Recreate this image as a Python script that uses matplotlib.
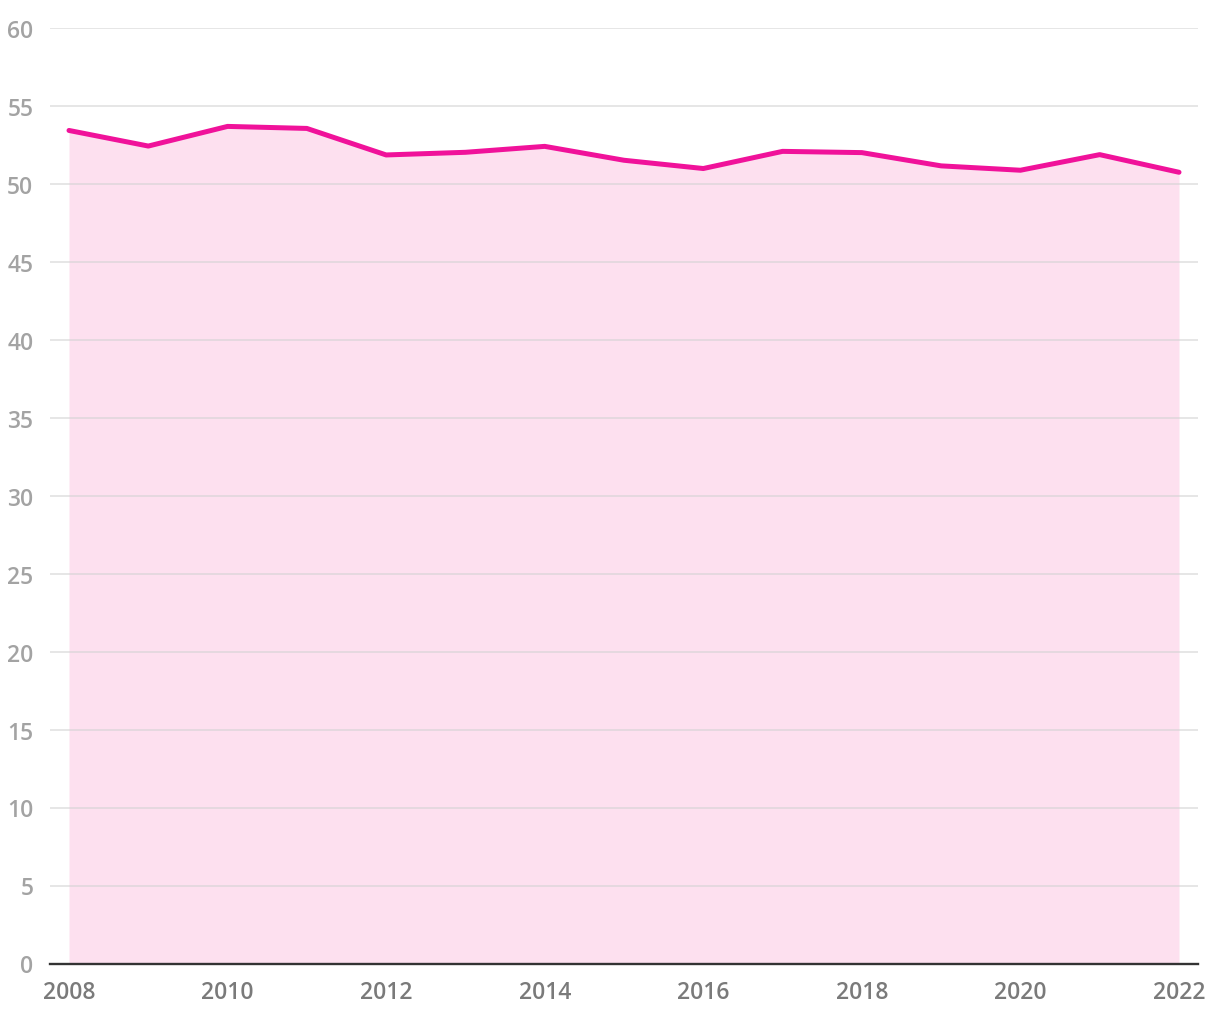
import matplotlib
matplotlib.use("Agg")
import matplotlib.pyplot as plt

years = [2008, 2009, 2010, 2011, 2012, 2013, 2014, 2015, 2016, 2017, 2018, 2019, 2020, 2021, 2022]
values = [53.4, 52.4, 53.66, 53.53, 51.83, 52.0, 52.38, 51.49, 50.96, 52.06, 51.98, 51.13, 50.85, 51.85, 50.72]
y_ticks = [0, 5, 10, 15, 20, 25, 30, 35, 40, 45, 50, 55, 60]
x_ticks = [2008, 2010, 2012, 2014, 2016, 2018, 2020, 2022]

plt.rcParams['font.family'] = ['Open Sans', 'DejaVu Sans']

fig = plt.figure(figsize=(12.2, 10.2), dpi=100)
ax = fig.add_axes([50/1220, 55.5/1020, 1148/1220, 936/1020])

line_color = '#f0129a'
ax.fill_between(years, 0, values, color='#fde0ef', linewidth=0, zorder=1)
ax.plot(years, values, color=line_color, linewidth=3.6, solid_capstyle='round',
        solid_joinstyle='round', zorder=3)

ax.set_xlim(2008 - 19/79.29, 2022 + 19/79.29)
ax.set_ylim(0, 60)
ax.set_yticks(y_ticks)
ax.set_xticks(x_ticks)
ax.set_xticklabels([str(x) for x in x_ticks])
ax.grid(axis='y', color='#d2d2d2', alpha=0.55, linewidth=1.4, zorder=2)
ax.set_axisbelow(False)
for gl in ax.get_ygridlines():
    gl.set_zorder(2)

for s in ['top', 'right', 'left']:
    ax.spines[s].set_visible(False)
ax.spines['bottom'].set_color('#333333')
ax.spines['bottom'].set_linewidth(1.7)
ax.spines['bottom'].set_zorder(4)

ax.tick_params(axis='y', length=0, pad=12, labelsize=16.5, labelcolor='#a3a3a3')
ax.tick_params(axis='x', length=0, pad=12, labelsize=16.5, labelcolor='#7a7a7a')
for lab in ax.get_yticklabels() + ax.get_xticklabels():
    lab.set_fontweight('semibold')

fig.savefig('out.png', dpi=100)
